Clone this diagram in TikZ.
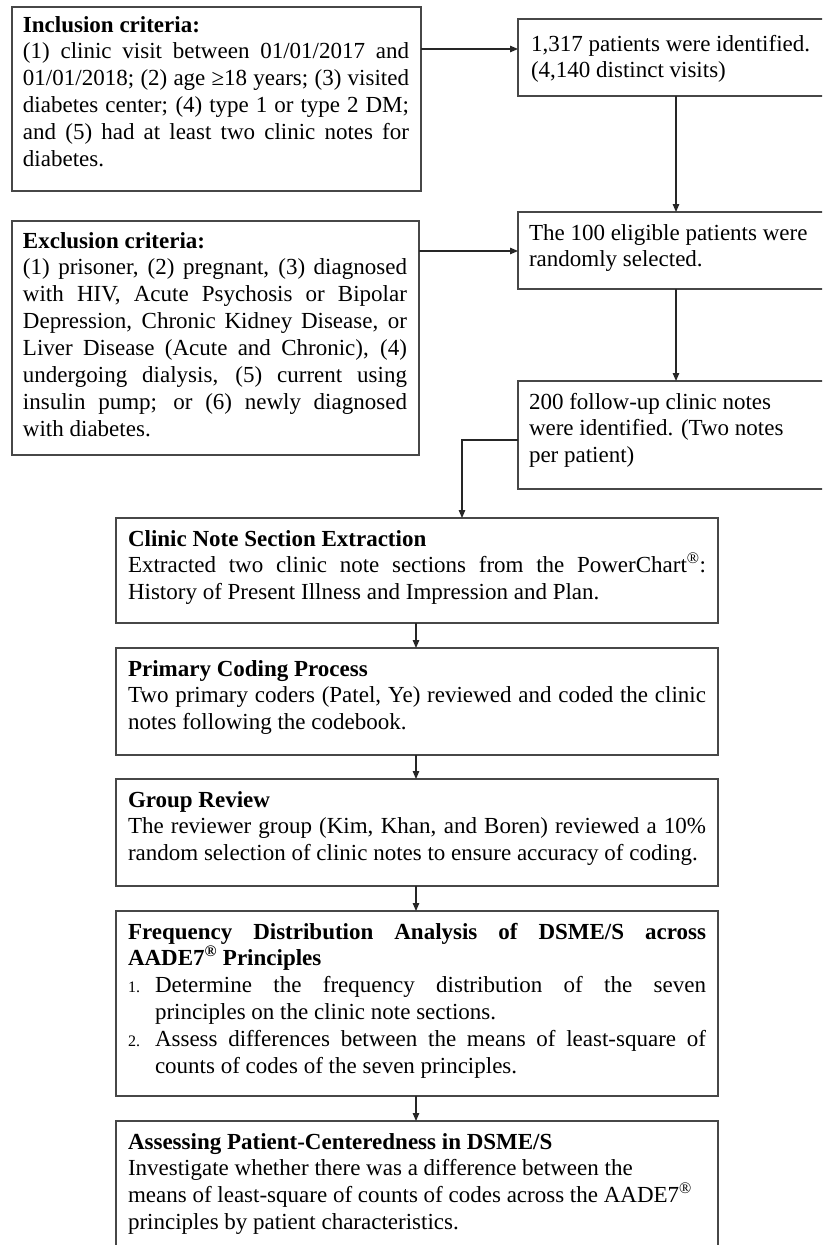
\documentclass[tikz,border=0pt]{standalone}
\usepackage{fontspec}
\setmainfont{Liberation Serif}
\usetikzlibrary{arrows.meta}
\tikzset{
  box/.style={draw=black!72, line width=1.4pt, rectangle, inner sep=0pt, outer sep=0pt, anchor=north west},
  txt/.style={inner sep=0pt, outer sep=0pt, anchor=north west, font=\fontsize{23}{26.9}\selectfont},
  arr/.style={draw=black!85, line width=1.2pt, -{Triangle[length=8pt,width=6.5pt]}},
}
\newcommand\fstrut{\rule{0pt}{22pt}}
\newcommand\regmark{\textsuperscript{®}}
\newcommand\numitem[1]{\hangindent=27pt\hangafter=1\noindent\makebox[27pt][l]{\fontsize{16}{16}\selectfont #1}}
\begin{document}
\begin{tikzpicture}[x=1pt,y=1pt]
\useasboundingbox (0,0) rectangle (822,-1245);
\clip (0,0) rectangle (822,-1245);
\fill[white] (0,0) rectangle (822,-1245);

% boxes
\node[box, minimum width=409, minimum height=184] (incl) at (12,-7) {};
\node[box, minimum width=407, minimum height=234] (excl) at (12,-221) {};
\node[box, minimum width=312, minimum height=77] (r1) at (518,-19) {};
\node[box, minimum width=312, minimum height=77] (r2) at (518,-212) {};
\node[box, minimum width=312, minimum height=108] (r3) at (518,-381) {};
\node[box, minimum width=602, minimum height=105] (clin) at (116,-518) {};
\node[box, minimum width=602, minimum height=107] (prim) at (116,-648) {};
\node[box, minimum width=602, minimum height=107] (grp) at (116,-779) {};
\node[box, minimum width=602, minimum height=185] (freq) at (116,-911) {};
\node[box, minimum width=602, minimum height=140] (asse) at (116,-1121) {};

% texts
\node[txt] (inclT) at (23,-10) {\parbox[t]{386pt}{\fstrut\textbf{Inclusion criteria:}\par
(1) clinic visit between 01/01/2017 and\linebreak 01/01/2018; (2) age ≥18 years; (3) visited\linebreak diabetes center; (4) type 1 or type 2 DM;\linebreak and (5) had at least two clinic notes for\linebreak diabetes.}};

\node[txt] (exclT) at (23,-226) {\parbox[t]{384pt}{\fstrut\textbf{Exclusion criteria:}\par
(1) prisoner, (2) pregnant, (3) diagnosed\linebreak with HIV, Acute Psychosis or Bipolar\linebreak Depression, Chronic Kidney Disease, or\linebreak Liver Disease (Acute and Chronic), (4)\linebreak undergoing dialysis, (5) current using\linebreak insulin pump; or (6) newly diagnosed\linebreak with diabetes.}};

\node[txt] (r1T) at (531,-29) {\parbox[t]{300pt}{\raggedright\fstrut 1,317 patients were identified.\\(4,140 distinct visits)}};
\node[txt] (r2T) at (529,-218) {\parbox[t]{300pt}{\raggedright\fstrut The 100 eligible patients were\\randomly selected.}};
\node[txt] (r3T) at (529,-387) {\parbox[t]{300pt}{\raggedright\fstrut 200 follow-up clinic notes\\were identified. (Two notes\\per patient)}};

\node[txt] (clinT) at (128,-524) {\parbox[t]{578pt}{\fstrut\textbf{Clinic Note Section Extraction}\par
Extracted two clinic note sections from the PowerChart\regmark:\linebreak History of Present Illness and Impression and Plan.}};

\node[txt] (primT) at (128,-654) {\parbox[t]{578pt}{\fstrut\textbf{Primary Coding Process}\par
Two primary coders (Patel, Ye) reviewed and coded the clinic\linebreak notes following the codebook.}};

\node[txt] (grpT) at (128,-785) {\parbox[t]{578pt}{\fstrut\textbf{Group Review}\par
The reviewer group (Kim, Khan, and Boren) reviewed a 10\%\linebreak random selection of clinic notes to ensure accuracy of coding.}};

\node[txt] (freqT) at (128,-917) {\parbox[t]{578pt}{\fstrut\textbf{Frequency Distribution Analysis of DSME/S across\linebreak AADE7\regmark{} Principles}\par
\numitem{1.}Determine the frequency distribution of the seven\linebreak principles on the clinic note sections.\par
\numitem{2.}Assess differences between the means of least-square of\linebreak counts of codes of the seven principles.}};

\node[txt] (asseT) at (128,-1127) {\parbox[t]{578pt}{\raggedright\fstrut\textbf{Assessing Patient-Centeredness in DSME/S}\\
Investigate whether there was a difference between the\\means of least-square of counts of codes across the AADE7\regmark\\principles by patient characteristics.}};

% connector helpers
\coordinate (ya) at (0,-49);
\coordinate (yb) at (0,-251);
\coordinate (xr) at (676,0);
\coordinate (ye) at (0,-440);
\coordinate (xe) at (462,0);
\coordinate (xm) at (416,0);

% connectors
\draw[arr] (incl.east |- ya) -- (r1.west |- ya);
\draw[arr] (excl.east |- yb) -- (r2.west |- yb);
\draw[arr] (r1.south -| xr) -- (r2.north -| xr);
\draw[arr] (r2.south -| xr) -- (r3.north -| xr);
\draw[arr] (r3.west |- ye) -| (clin.north -| xe);
\draw[arr] (clin.south -| xm) -- (prim.north -| xm);
\draw[arr] (prim.south -| xm) -- (grp.north -| xm);
\draw[arr] (grp.south -| xm) -- (freq.north -| xm);
\draw[arr] (freq.south -| xm) -- (asse.north -| xm);
\end{tikzpicture}
\end{document}
